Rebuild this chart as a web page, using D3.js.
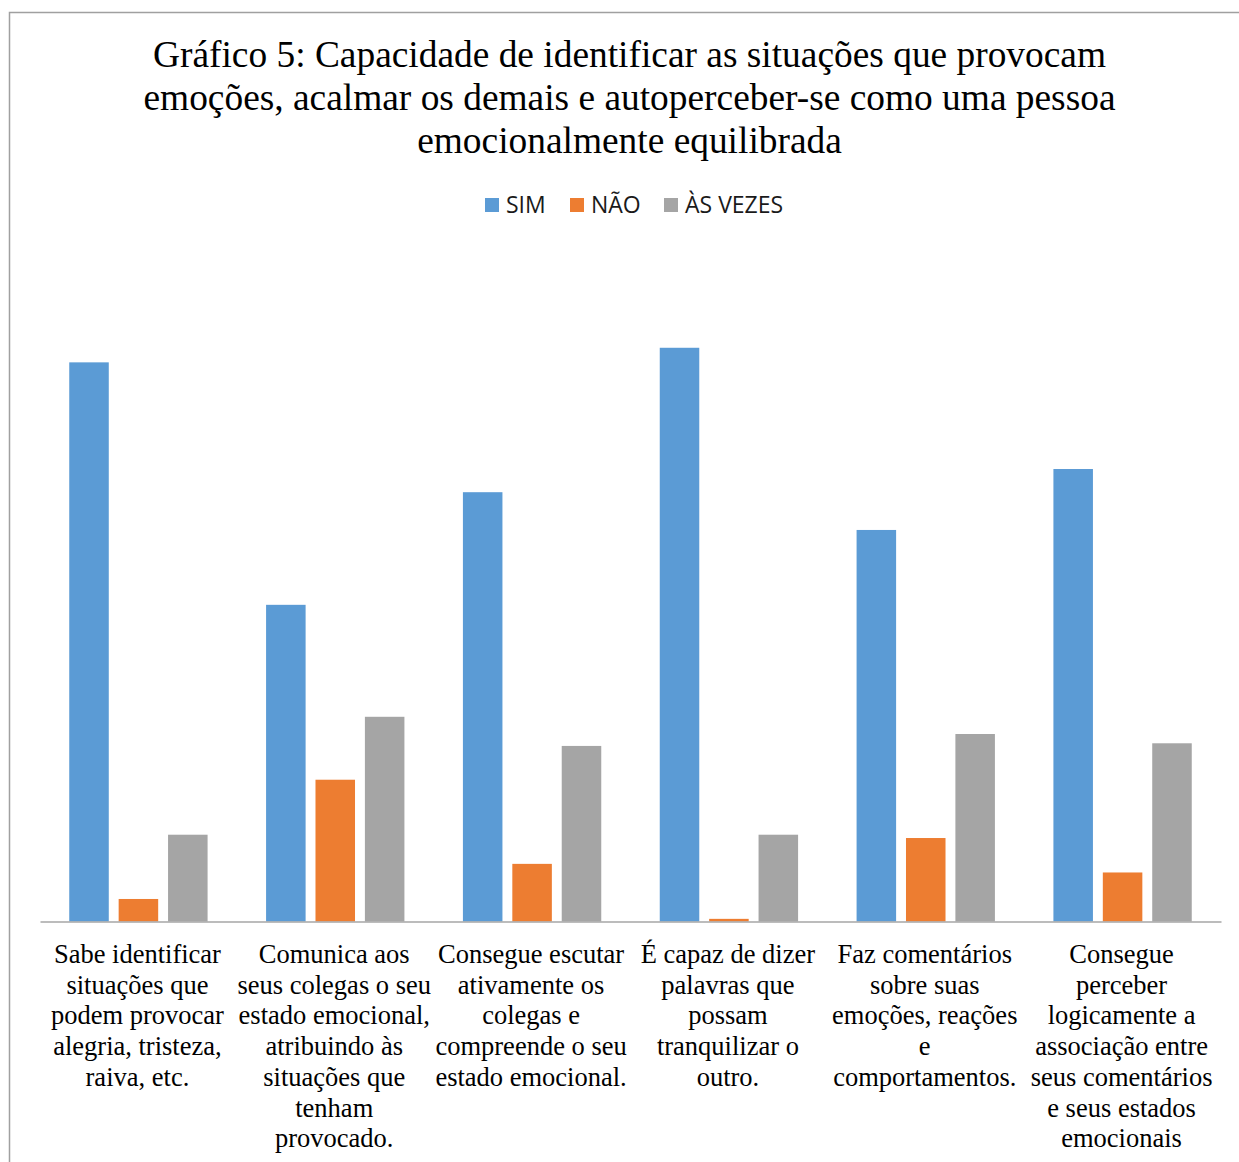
<!DOCTYPE html>
<html lang="pt">
<head>
<meta charset="utf-8">
<script src="https://cdn.jsdelivr.net/npm/d3@7"></script>
<style>
  html, body { margin: 0; padding: 0; background: #ffffff; }
  svg { display: block; }
</style>
</head>
<body>
<script>
// Categories (label lines as they wrap under each group)
const categories = [
  ["Sabe identificar", "situações que", "podem provocar", "alegria, tristeza,", "raiva, etc."],
  ["Comunica aos", "seus colegas o seu", "estado emocional,", "atribuindo às", "situações que", "tenham", "provocado."],
  ["Consegue escutar", "ativamente os", "colegas e", "compreende o seu", "estado emocional."],
  ["É capaz de dizer", "palavras que", "possam", "tranquilizar o", "outro."],
  ["Faz comentários", "sobre suas", "emoções, reações", "e", "comportamentos."],
  ["Consegue", "perceber", "logicamente a", "associação entre", "seus comentários", "e seus estados", "emocionais"]
];

const seriesNames = ["SIM", "NÃO", "ÀS VEZES"];

// Percentage of answers per category
const sim     = [84.4, 47.8, 64.8, 86.6, 59.1, 68.3];
const nao     = [3.4, 21.4, 8.7, 0.4, 12.6, 7.4];
const asVezes = [13.1, 30.9, 26.5, 13.1, 28.3, 26.9];

const colors = ["#5B9BD5", "#ED7D31", "#A5A5A5"];

const titleLines = [
  "Gráfico 5: Capacidade de identificar as situações que provocam",
  "emoções, acalmar os demais e autoperceber-se como uma pessoa",
  "emocionalmente equilibrada"
];

const W = 1239, H = 1162;
const svg = d3.select("body").append("svg").attr("width", W).attr("height", H);

// Chart frame (runs off the right and bottom edges)
svg.append("rect")
  .attr("x", 9.5).attr("y", 12.5)
  .attr("width", W + 20).attr("height", H + 20)
  .attr("fill", "#ffffff")
  .attr("stroke", "#a0a0a0").attr("stroke-width", 1.5);

// Title
svg.append("text")
  .attr("text-anchor", "middle")
  .attr("font-family", "'Liberation Serif', 'Times New Roman', serif")
  .attr("font-size", 37.4)
  .attr("fill", "#000")
  .selectAll("tspan").data(titleLines).join("tspan")
  .attr("x", 629.5)
  .attr("y", (d, i) => 67 + i * 43)
  .text(d => d);

// Scales
const plotLeft = 40, plotRight = 1221, baseY = 921.5;
const x0 = d3.scaleBand().domain(d3.range(categories.length)).range([plotLeft, plotRight]).padding(0);
const x1 = d3.scaleBand().domain(seriesNames).range([0, x0.bandwidth()])
  .paddingInner(0.2).paddingOuter(0.592);
const y = d3.scaleLinear().domain([0, 100]).range([baseY, baseY - 662.5]);

const data = [sim, nao, asVezes];

// Bars
const groups = svg.append("g").selectAll("g")
  .data(categories.map((c, i) => i))
  .join("g")
  .attr("transform", i => `translate(${x0(i)},0)`);

groups.selectAll("rect")
  .data(i => seriesNames.map((s, k) => ({ s, k, v: data[k][i] })))
  .join("rect")
  .attr("x", d => x1(d.s))
  .attr("width", x1.bandwidth())
  .attr("y", d => y(d.v))
  .attr("height", d => y(0) - y(d.v))
  .attr("fill", d => colors[d.k]);

// Category axis line
const xAxis = d3.axisBottom(x0).tickSize(0).tickFormat("");
const axisG = svg.append("g").attr("transform", `translate(0,${baseY})`).call(xAxis);
axisG.select(".domain").attr("stroke", "#a6a6a6").attr("stroke-width", 1.5);

// Category labels
const labelG = svg.append("g")
  .attr("font-family", "'Liberation Serif', 'Times New Roman', serif")
  .attr("font-size", 26.5)
  .attr("fill", "#000")
  .attr("text-anchor", "middle");

labelG.selectAll("text")
  .data(categories)
  .join("text")
  .each(function (lines, i) {
    d3.select(this).selectAll("tspan").data(lines).join("tspan")
      .attr("x", x0(i) + x0.bandwidth() / 2 - 1)
      .attr("y", (d, j) => 963 + j * 30.7)
      .text(d => d);
  });

// Legend
const legendItems = [
  { name: "SIM", x: 485 },
  { name: "NÃO", x: 570 },
  { name: "ÀS VEZES", x: 664 }
];
const legend = svg.append("g")
  .attr("font-family", "'Open Sans', 'Noto Sans', sans-serif")
  .attr("font-size", 23)
  .attr("fill", "#1a1a1a");
legendItems.forEach((d, k) => {
  legend.append("rect")
    .attr("x", d.x).attr("y", 198)
    .attr("width", 14).attr("height", 14)
    .attr("fill", colors[k]);
  legend.append("text")
    .attr("x", d.x + 21).attr("y", 213)
    .text(seriesNames[k]);
});
</script>
</body>
</html>
